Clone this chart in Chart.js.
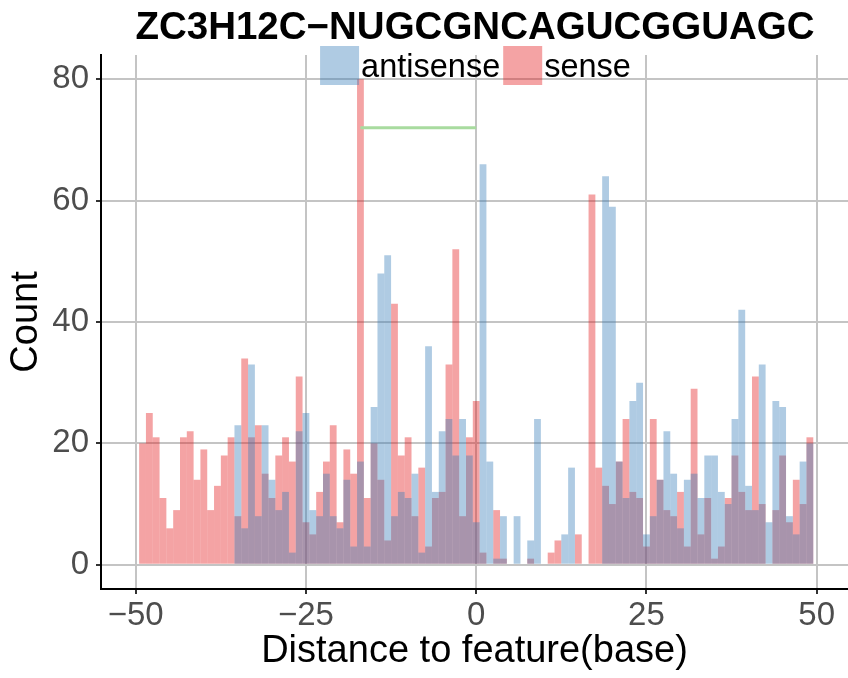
<!DOCTYPE html>
<html>
<head>
<meta charset="utf-8">
<script src="https://cdn.jsdelivr.net/npm/chart.js@4.4.0/dist/chart.umd.min.js"></script>
<style>
  html, body { margin: 0; padding: 0; background: #fff; }
</style>
</head>
<body>
<canvas id="chart" width="848" height="678"></canvas>
<script>
/* ---------- data (one bin per base, -49 .. 49) ---------- */
const binCenters = [
  -49, -48, -47, -46, -45, -44, -43, -42, -41, -40,
  -39, -38, -37, -36, -35, -34, -33, -32, -31, -30,
  -29, -28, -27, -26, -25, -24, -23, -22, -21, -20,
  -19, -18, -17, -16, -15, -14, -13, -12, -11, -10,
  -9, -8, -7, -6, -5, -4, -3, -2, -1, 0,
  1, 2, 3, 4, 5, 6, 7, 8, 9, 10,
  11, 12, 13, 14, 15, 16, 17, 18, 19, 20,
  21, 22, 23, 24, 25, 26, 27, 28, 29, 30,
  31, 32, 33, 34, 35, 36, 37, 38, 39, 40,
  41, 42, 43, 44, 45, 46, 47, 48, 49
];
const senseCounts = [
  20, 25, 21, 11, 6, 9, 21, 22, 14, 19,
  9, 13, 18, 21, 8, 34, 21, 23, 15, 11,
  18, 21, 17, 31, 7, 5, 12, 17, 23, 7,
  19, 15, 80, 11, 20, 14, 4, 43, 18, 21,
  8, 16, 3, 11, 12, 33, 52, 8, 21, 27,
  2, 0, 9, 1, 0, 0, 0, 1, 0, 0,
  2, 4, 0, 0, 5, 0, 61, 16, 13, 10,
  17, 24, 12, 11, 3, 24, 14, 9, 8, 12,
  3, 29, 5, 11, 1, 3, 11, 18, 12, 9,
  31, 10, 0, 9, 18, 7, 14, 10, 21
];
const antisenseCounts = [
  0, 0, 0, 0, 0, 0, 0, 0, 0, 0,
  0, 0, 0, 0, 23, 6, 33, 8, 23, 14,
  9, 12, 2, 22, 25, 9, 8, 15, 8, 6,
  14, 3, 17, 3, 26, 48, 51, 8, 12, 11,
  15, 2, 36, 12, 22, 24, 18, 24, 18, 7,
  66, 17, 1, 8, 0, 8, 0, 4, 24, 0,
  0, 0, 5, 16, 0, 0, 0, 0, 64, 59,
  17, 11, 27, 30, 5, 8, 14, 22, 15, 6,
  14, 15, 11, 18, 18, 12, 10, 24, 42, 13,
  9, 33, 7, 27, 26, 8, 5, 17, 20
];
// motif span marker (green segment)
const motifX = [-17, 0];
const motifY = [72, 72];

const seriesNames = ["antisense", "sense"];
const titleText = "ZC3H12C\u2212NUGCGNCAGUCGGUAGC";
const xTicks = [-50, -25, 0, 25, 50];
const yTicks = [0, 20, 40, 60, 80];

const FONT = '"Liberation Sans", Arial, Helvetica, sans-serif';
const blueFill = "rgba(55,126,184,0.4)";
const redFill = "rgba(228,26,28,0.4)";

const toPoints = (xs, ys) => xs.map((x, i) => ({ x: x, y: ys[i] }));

/* ---------- title + legend drawn over the plot ---------- */
const overlay = {
  id: "overlay",
  afterDraw(chart) {
    const ctx = chart.ctx;
    ctx.save();
    ctx.fillStyle = "#000";
    ctx.textAlign = "center";
    ctx.textBaseline = "alphabetic";
    ctx.font = "bold 38.5px " + FONT;
    ctx.fillText(titleText, 475, 39);

    ctx.font = "32.5px " + FONT;
    ctx.textAlign = "left";
    const key = 39;
    const w1 = ctx.measureText(seriesNames[0]).width;
    const w2 = ctx.measureText(seriesNames[1]).width;
    const total = key + 2 + w1 + 3 + key + 2 + w2;
    let x = 475.5 - total / 2;
    ctx.fillStyle = blueFill;
    ctx.fillRect(x, 46, key, key);
    x += key + 2;
    ctx.fillStyle = "#000";
    ctx.fillText(seriesNames[0], x, 77);
    x += w1 + 3;
    ctx.fillStyle = redFill;
    ctx.fillRect(x, 46, key, key);
    x += key + 2;
    ctx.fillStyle = "#000";
    ctx.fillText(seriesNames[1], x, 77);
    ctx.restore();
  }
};

const minus = (v) => String(v).replace("-", "\u2212");

new Chart(document.getElementById("chart"), {
  type: "bar",
  plugins: [overlay],
  data: {
    datasets: [
      {
        type: "line",
        label: "motif",
        data: toPoints(motifX, motifY),
        borderColor: "#a8db9f",
        borderWidth: 3,
        pointRadius: 0,
        order: 0
      },
      {
        label: seriesNames[0],
        data: toPoints(binCenters, antisenseCounts),
        backgroundColor: blueFill,
        borderWidth: 0,
        grouped: false,
        barPercentage: 1,
        categoryPercentage: 1,
        inflateAmount: 0,
        order: 1
      },
      {
        label: seriesNames[1],
        data: toPoints(binCenters, senseCounts),
        backgroundColor: redFill,
        borderWidth: 0,
        grouped: false,
        barPercentage: 1,
        categoryPercentage: 1,
        inflateAmount: 0,
        order: 2
      }
    ]
  },
  options: {
    responsive: false,
    animation: false,
    layout: { padding: { top: 55, left: 0, right: 0, bottom: 0 } },
    plugins: {
      legend: { display: false },
      tooltip: { enabled: false },
      title: { display: false }
    },
    scales: {
      x: {
        type: "linear",
        min: -55.1,
        max: 54.6,
        offset: false,
        grid: { color: "#c4c4c4", lineWidth: 2, tickLength: 5, tickColor: "#333", offset: false },
        border: { color: "#000", width: 2 },
        afterBuildTicks: (s) => { s.ticks = xTicks.map((v) => ({ value: v })); },
        ticks: {
          autoSkip: false,
          maxRotation: 0,
          color: "#4d4d4d",
          padding: 2,
          font: { family: FONT, size: 33 },
          callback: minus
        },
        title: {
          display: true,
          text: "Distance to feature(base)",
          color: "#000",
          font: { family: FONT, size: 38 },
          padding: { top: 0, bottom: 4 }
        },
        afterFit: (s) => { s.height = 89; }
      },
      y: {
        type: "linear",
        min: -4,
        max: 84,
        grid: { color: "#c4c4c4", lineWidth: 2, tickLength: 5, tickColor: "#333" },
        border: { color: "#000", width: 2 },
        afterBuildTicks: (s) => { s.ticks = yTicks.map((v) => ({ value: v })); },
        ticks: {
          color: "#4d4d4d",
          padding: 7,
          font: { family: FONT, size: 33 }
        },
        title: {
          display: true,
          text: "Count",
          color: "#000",
          font: { family: FONT, size: 38 },
          padding: { top: 4, bottom: 0 }
        },
        afterFit: (s) => { s.width = 101; }
      }
    }
  }
});
</script>
</body>
</html>
